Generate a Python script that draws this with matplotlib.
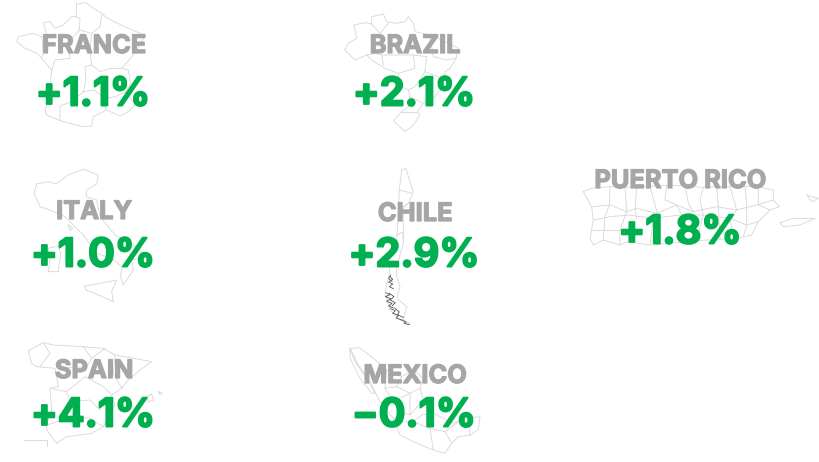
import matplotlib
matplotlib.use('Agg')
import matplotlib.pyplot as plt
import matplotlib.patheffects as pe

plt.rcParams['font.family'] = ['Inter', 'DejaVu Sans']

names = ['FRANCE', 'BRAZIL', 'ITALY', 'CHILE', 'PUERTO RICO', 'SPAIN', 'MEXICO']
changes = ['+1.1%', '+2.1%', '+1.0%', '+2.9%', '+1.8%', '+4.1%', '\u22120.1%']
name_x = [94, 415, 94, 415, 680, 94, 415]
name_y = [53, 53, 219, 221, 188, 378, 383]
change_x = [93, 414, 93, 414, 680, 93, 414]
change_y = [105.5, 105.5, 266.5, 266.5, 243.5, 426.5, 426.5]

france = [
    [(230,12),(258,8),(280,25),(305,40),(322,55),(370,78),(420,100),(437,105),(400,165),(365,205),(385,210),(392,250),
     (378,275),(405,315),(385,335),(360,348),(320,330),(280,350),(275,378),(248,380),(180,362),(140,345),(135,330),
     (150,290),(150,260),(155,210),(125,175),(112,160),(75,145),(50,125),(55,110),(100,100),(125,110),(140,105),
     (130,68),(150,65),(165,85),(190,75),(215,50),(228,50),(230,12)],
    [(228,50),(240,55),(238,90),(275,100),(300,80),(305,45)],
    [(238,90),(225,105),(205,130),(210,175),(165,180),(155,210)],
    [(275,100),(270,150),(275,195),(255,200),(258,240),(250,275),(215,305),(180,318),(180,362)],
    [(275,195),(300,215),(330,205),(365,205)],
    [(250,275),(280,270),(320,295),(345,290),(378,275)],
    [(320,295),(315,330)],
    [(125,110),(130,160),(125,175)],
]
brazil = [
    [(45,150),(55,130),(80,115),(72,75),(105,68),(125,72),(125,50),(160,42),(170,65),(195,70),(225,65),(235,50),
     (250,70),(255,95),(300,105),(345,125),(385,145),(378,175),(360,205),(345,215),(340,255),(315,290),(280,310),
     (262,335),(270,345),(250,375),(225,395),(190,362),(215,335),(235,320),(240,290),(235,270),(205,255),(205,220),
     (165,205),(125,180),(110,165),(75,180),(45,150)],
    [(125,72),(150,100),(175,70)],
    [(110,165),(135,160),(155,165),(160,195)],
    [(155,165),(250,165),(255,205),(205,220)],
    [(250,165),(290,170),(285,215),(340,235)],
    [(285,215),(255,260),(235,270)],
    [(280,310),(240,290)],
    [(215,335),(262,335)],
    [(300,105),(310,170),(350,180),(378,175)],
]
italy = [
    [(110,72),(145,65),(168,72),(205,45),(250,28),(295,45),(290,72),(260,90),(258,110),(290,120),(300,170),(345,225),
     (400,255),(440,290),(395,300),(400,330),(370,375),(362,350),(365,320),(335,295),(290,280),(250,225),(215,190),
     (195,170),(150,150),(120,140),(102,100),(110,72)],
    [(255,378),(290,372),(350,360),(335,395),(340,425),(295,405),(258,390),(255,378)],
    [(145,265),(175,258),(182,280),(175,335),(145,335),(150,300),(145,265)],
    [(205,195),(218,205),(210,212),(205,195)],
]
chile = [
    [(185,30),(198,25),(205,50),(220,95),(205,130),(190,145),(190,200),(190,250),(170,320),(170,350),(180,380),(170,415),
     (200,440),(190,480),(210,492),(180,480),(150,450),(135,400),(148,340),(150,300),(170,240),(175,150),(178,90),(185,30)],
    [(180,90),(215,100)],
    [(175,150),(205,130)],
    [(172,225),(190,215),(188,235)],
]
chile_dark = [
    [(150,350),(158,358),(146,366),(158,372),(148,380),(160,386)],
    [(152,345),(146,356),(156,364)],
    [(138,398),(150,404),(136,410),(152,416),(140,424),(156,430),(146,438),(160,444)],
    [(148,400),(162,410),(150,420),(166,428),(156,438)],
    [(152,446),(166,452),(158,460),(176,466),(168,474),(186,480)],
    [(164,444),(178,456),(172,464),(190,472)],
    [(186,480),(198,486),(192,490),(208,494)],
]
puerto_rico = [
    [(40,125),(65,115),(120,110),(200,112),(300,105),(400,112),(500,108),(560,110),(610,120),(610,150),(628,170),(600,180),
     (565,215),(545,255),(500,265),(440,268),(380,272),(300,280),(240,285),(170,275),(150,285),(100,270),(70,285),
     (60,265),(70,210),(65,170),(40,125)],
    [(630,218),(670,205),(735,205),(690,225),(640,230),(630,218)],
    [(712,135),(725,140),(745,145),(728,155),(718,148),(712,135)],
    [(65,170),(120,165),(170,185),(200,175),(260,190),(320,165),(370,185),(440,170),(500,180),(560,165),(610,150)],
    [(70,210),(120,200),(175,195),(250,205),(330,195),(400,195),(480,205),(530,225),(565,215)],
    [(65,240),(130,240),(190,240)],
    [(120,110),(118,165),(105,200),(100,270)],
    [(165,112),(170,185),(150,240),(150,285)],
    [(200,112),(195,175),(200,205)],
    [(240,110),(262,190),(250,205),(240,285)],
    [(290,106),(285,150),(320,165),(335,195)],
    [(345,108),(355,160),(370,185)],
    [(400,112),(390,150),(400,195),(380,272)],
    [(440,112),(445,170),(450,268)],
    [(480,110),(500,180),(480,205),(490,265)],
    [(525,108),(530,160),(530,225),(520,260)],
    [(565,115),(565,165),(600,180)],
]
spain = [
    [(85,62),(130,38),(160,45),(250,50),(310,55),(345,75),(385,82),(455,95),(420,120),(385,150),(365,175),(335,195),
     (345,225),(310,290),(275,310),(200,320),(170,340),(140,300),(140,285),(155,240),(150,175),(175,170),(165,115),
     (110,110),(95,100),(85,62)],
    [(130,38),(150,70),(120,110)],
    [(250,50),(275,85),(315,55)],
    [(345,75),(340,130),(365,175)],
    [(150,175),(200,185),(255,140),(310,170),(335,195)],
    [(200,185),(210,215),(270,210),(300,240)],
    [(140,285),(220,260),(270,265),(310,290)],
    [(175,115),(260,110),(275,85)],
    [(440,200),(455,192),(460,210),(445,215),(440,200)],
    [(475,185),(487,190),(480,193),(475,185)],
    [(72,330),(140,330),(140,347)],
]
mexico = [
    [(60,40),(88,38),(130,70),(170,105),(215,125),(250,105),(280,130),(270,160),(280,195),(310,235),(370,265),(400,250),
     (450,245),(445,285),(420,300),(385,305),(365,325),(345,355),(310,345),(250,320),(210,300),(190,250),(150,200),
     (120,140),(85,90),(60,40)],
    [(60,40),(75,80),(110,130),(135,175),(125,175),(90,130),(60,70),(60,40)],
    [(170,105),(165,160),(200,155),(215,125)],
    [(200,155),(240,175),(270,160)],
    [(165,160),(190,200),(240,175),(240,240),(280,195)],
    [(210,260),(250,260),(300,280),(310,345)],
    [(300,280),(345,290),(365,325)],
    [(345,290),(400,250)],
    [(415,255),(420,300)],
    [(250,260),(275,240),(310,235)],
    [(190,250),(225,235),(240,240)],
]

origins = {'france': (0, 0), 'brazil': (330, 0), 'italy': (0, 160), 'chile': (340, 160),
           'puerto_rico': (570, 150), 'spain': (0, 330), 'mexico': (330, 335)}
shapes = {'france': france, 'brazil': brazil, 'italy': italy, 'chile': chile,
          'puerto_rico': puerto_rico, 'spain': spain, 'mexico': mexico}

fig = plt.figure(figsize=(8.19, 4.62), dpi=100)
ax = fig.add_axes([0, 0, 1, 1])
ax.set_xlim(0, 819)
ax.set_ylim(462, 0)
ax.axis('off')


def draw_lines(lines, origin, color, lw):
    for line in lines:
        xs = [origin[0] + p[0] / 3 for p in line]
        ys = [origin[1] + p[1] / 3 for p in line]
        ax.plot(xs, ys, color=color, lw=lw, solid_joinstyle='round', zorder=1)


for key in shapes:
    draw_lines(shapes[key], origins[key], '#d6d6d6', 0.6)
draw_lines(chile_dark, origins['chile'], '#555555', 0.6)

# stroke thickens the bold weight to get closer to the heavy geometric face
for i in range(len(names)):
    ax.text(name_x[i], name_y[i], names[i], color='#a6a6a6', fontsize=18.3, fontweight='bold',
            ha='center', va='baseline', zorder=2,
            path_effects=[pe.withStroke(linewidth=0.9, foreground='#a6a6a6')])
    ax.text(change_x[i], change_y[i], changes[i], color='#00b050', fontsize=28.5, fontweight='bold',
            ha='center', va='baseline', zorder=3,
            path_effects=[pe.withStroke(linewidth=1.4, foreground='#00b050')])

fig.savefig('out.png', dpi=100, facecolor='white')
